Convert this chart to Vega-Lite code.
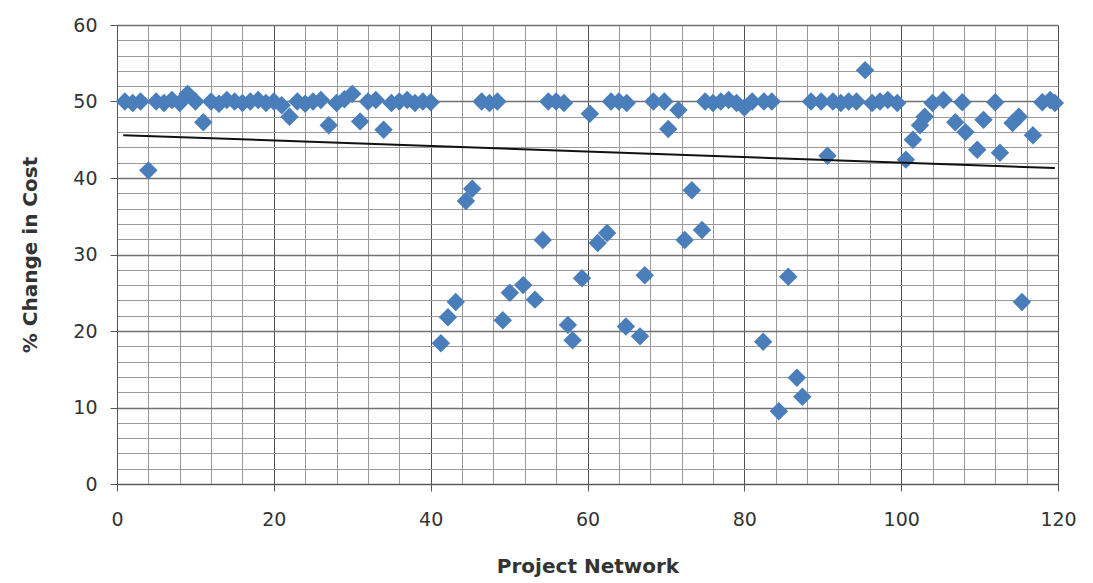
{
  "$schema": "https://vega.github.io/schema/vega-lite/v6.json",
  "width": 941,
  "height": 459,
  "autosize": "none",
  "padding": {"left": 117, "top": 25, "right": 35, "bottom": 99},
  "background": "white",
  "config": {
    "view": {"stroke": null},
    "axis": {
      "labelFont": "DejaVu Sans",
      "labelFontSize": 19,
      "labelColor": "#333333",
      "titleFont": "DejaVu Sans",
      "titleFontSize": 20,
      "titleFontWeight": "bold",
      "titleColor": "#333333",
      "domainColor": "#555555",
      "tickColor": "#555555",
      "tickSize": 7
    }
  },
  "datasets": {
    "points": [
      {"network": 1, "change": 50.0}, {"network": 2, "change": 49.8}, {"network": 3, "change": 50.0},
      {"network": 4, "change": 41.0}, {"network": 5, "change": 50.0}, {"network": 6, "change": 49.8},
      {"network": 7, "change": 50.2}, {"network": 8, "change": 49.8}, {"network": 9, "change": 51.0},
      {"network": 10, "change": 50.0}, {"network": 11, "change": 47.3}, {"network": 12, "change": 50.0},
      {"network": 13, "change": 49.7}, {"network": 14, "change": 50.2}, {"network": 15, "change": 50.0},
      {"network": 16, "change": 49.8}, {"network": 17, "change": 50.0}, {"network": 18, "change": 50.2},
      {"network": 19, "change": 49.8}, {"network": 20, "change": 50.0}, {"network": 21, "change": 49.5},
      {"network": 22, "change": 48.0}, {"network": 23, "change": 50.0}, {"network": 24, "change": 49.7},
      {"network": 25, "change": 50.0}, {"network": 26, "change": 50.2}, {"network": 27, "change": 46.9},
      {"network": 28, "change": 49.8}, {"network": 29, "change": 50.3}, {"network": 30, "change": 51.0},
      {"network": 31, "change": 47.4}, {"network": 32, "change": 50.0}, {"network": 33, "change": 50.2},
      {"network": 34, "change": 46.3}, {"network": 35, "change": 49.8}, {"network": 36, "change": 50.0},
      {"network": 37, "change": 50.2}, {"network": 38, "change": 49.8}, {"network": 39, "change": 50.0},
      {"network": 40, "change": 49.9},
      {"network": 41.3, "change": 18.4}, {"network": 42.2, "change": 21.8}, {"network": 43.2, "change": 23.8},
      {"network": 44.5, "change": 37.0}, {"network": 45.3, "change": 38.6},
      {"network": 46.5, "change": 50.0}, {"network": 47.5, "change": 49.8}, {"network": 48.5, "change": 50.0},
      {"network": 49.2, "change": 21.4}, {"network": 50.1, "change": 25.0}, {"network": 51.8, "change": 26.0},
      {"network": 53.3, "change": 24.1}, {"network": 54.3, "change": 31.9},
      {"network": 55, "change": 50.0}, {"network": 56, "change": 50.0}, {"network": 57, "change": 49.8},
      {"network": 57.5, "change": 20.8}, {"network": 58.1, "change": 18.8}, {"network": 59.3, "change": 26.9},
      {"network": 60.3, "change": 48.4}, {"network": 61.3, "change": 31.5}, {"network": 62.5, "change": 32.8},
      {"network": 63, "change": 50.0}, {"network": 64, "change": 50.0}, {"network": 65, "change": 49.8},
      {"network": 64.9, "change": 20.6}, {"network": 66.7, "change": 19.3}, {"network": 67.3, "change": 27.3},
      {"network": 68.4, "change": 50.0}, {"network": 69.8, "change": 50.0}, {"network": 70.3, "change": 46.4},
      {"network": 71.6, "change": 48.9}, {"network": 72.4, "change": 31.9}, {"network": 73.3, "change": 38.4},
      {"network": 74.6, "change": 33.2},
      {"network": 75, "change": 50.0}, {"network": 76, "change": 49.8}, {"network": 77, "change": 50.0},
      {"network": 78, "change": 50.2}, {"network": 79, "change": 49.8}, {"network": 80, "change": 49.2},
      {"network": 81, "change": 50.0}, {"network": 82.5, "change": 50.0}, {"network": 83.5, "change": 50.0},
      {"network": 82.4, "change": 18.6}, {"network": 84.4, "change": 9.5}, {"network": 85.6, "change": 27.1},
      {"network": 86.7, "change": 13.9}, {"network": 87.4, "change": 11.4},
      {"network": 88.5, "change": 50.0}, {"network": 89.8, "change": 50.0}, {"network": 90.6, "change": 42.9},
      {"network": 91.3, "change": 50.0}, {"network": 92.3, "change": 49.8}, {"network": 93.3, "change": 50.0},
      {"network": 94.3, "change": 50.0}, {"network": 95.4, "change": 54.1}, {"network": 96.3, "change": 49.8},
      {"network": 97.3, "change": 50.0}, {"network": 98.3, "change": 50.2}, {"network": 99.5, "change": 49.8},
      {"network": 100.6, "change": 42.4}, {"network": 101.5, "change": 45.0}, {"network": 102.4, "change": 46.9},
      {"network": 103, "change": 48.0}, {"network": 104, "change": 49.8}, {"network": 105.4, "change": 50.2},
      {"network": 106.9, "change": 47.3}, {"network": 107.8, "change": 49.9}, {"network": 108.2, "change": 46.0},
      {"network": 109.7, "change": 43.7}, {"network": 110.5, "change": 47.6}, {"network": 112, "change": 49.9},
      {"network": 112.6, "change": 43.3}, {"network": 114.2, "change": 47.2}, {"network": 115, "change": 48.0},
      {"network": 115.4, "change": 23.8}, {"network": 116.8, "change": 45.6}, {"network": 118, "change": 49.9},
      {"network": 119, "change": 50.2}, {"network": 119.6, "change": 49.8}
    ],
    "trend": [
      {"network": 0.8, "change": 45.6},
      {"network": 119.6, "change": 41.3}
    ]
  },
  "layer": [
    {
      "data": {"name": "points"},
      "mark": {"type": "point", "shape": "diamond", "filled": true, "size": 340, "color": "#4A7EBB", "opacity": 1},
      "encoding": {
        "x": {
          "field": "network", "type": "quantitative",
          "scale": {"domain": [0, 120], "nice": false, "zero": true},
          "axis": {
            "title": "Project Network",
            "tickCount": 200,
            "format": "d",
            "values": [0,4,8,12,16,20,24,28,32,36,40,44,48,52,56,60,64,68,72,76,80,84,88,92,96,100,104,108,112,116,120],
            "labelExpr": "datum.value % 20 === 0 ? datum.label : ''",
            "tickOpacity": {"condition": {"test": "datum.value % 20 === 0", "value": 1}, "value": 0},
            "grid": true,
            "gridColor": {"condition": {"test": "datum.value % 20 === 0", "value": "#505050"}, "value": "#9a9a9a"},
            "gridWidth": 1,
            "labelPadding": 19,
            "titlePadding": 27,
            "labelFlush": false,
            "labelOverlap": false
          }
        },
        "y": {
          "field": "change", "type": "quantitative",
          "scale": {"domain": [0, 60], "nice": false},
          "axis": {
            "title": "% Change in Cost",
            "tickCount": 200,
            "format": "d",
            "values": [0,2,4,6,8,10,12,14,16,18,20,22,24,26,28,30,32,34,36,38,40,42,44,46,48,50,52,54,56,58,60],
            "labelExpr": "datum.value % 10 === 0 ? datum.label : ''",
            "tickOpacity": {"condition": {"test": "datum.value % 10 === 0", "value": 1}, "value": 0},
            "grid": true,
            "gridColor": {"condition": {"test": "datum.value % 10 === 0", "value": "#707070"}, "value": "#9a9a9a"},
            "gridWidth": {"condition": {"test": "datum.value % 10 === 0", "value": 1.6}, "value": 1},
            "labelPadding": 13,
            "titlePadding": 32,
            "labelFlush": false,
            "labelOverlap": false
          }
        }
      }
    },
    {
      "data": {"name": "trend"},
      "mark": {"type": "line", "color": "#111111", "strokeWidth": 2},
      "encoding": {
        "x": {"field": "network", "type": "quantitative", "title": "Project Network"},
        "y": {"field": "change", "type": "quantitative", "title": "% Change in Cost"}
      }
    }
  ]
}
